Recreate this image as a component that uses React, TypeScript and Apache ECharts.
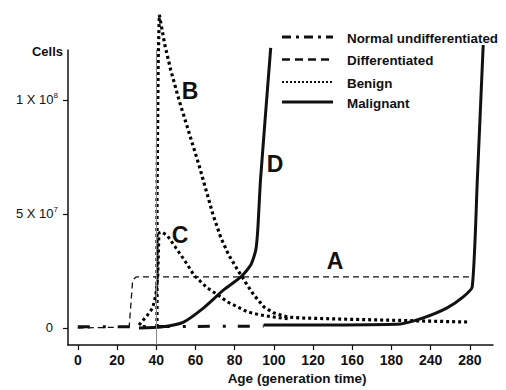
import React, { useEffect, useRef } from 'react';
import * as echarts from 'echarts';

// x axis is drawn at evenly spaced positions (index) with these labels
const xTickIndex = [0, 1, 2, 3, 4, 5, 6, 7, 8, 9, 10];
const xTickLabels = ['0', '20', '40', '60', '80', '100', '120', '160', '180', '240', '280'];
const yTickValues = [0, 50, 100];
const yTickLabels = ['{z|0}', '{b|5 X 10}{s|7}', '{b|1 X 10}{s|8}'];

const normalUndiff: number[][] = [[0, 0.5], [4.74, 0.8]];
const differentiated: number[][] = [[0, 0], [1.31, 0.4], [1.4, 21], [1.49, 22.4], [10.06, 22.4]];
const benignB: number[][] = [
  [2.02, 0.4], [2.02, 56.1], [2.05, 117.5], [2.08, 137.3], [2.15, 130.7], [2.22, 124.1],
  [2.37, 113.2], [2.58, 100], [2.84, 85.5], [3.09, 71.5], [3.27, 60.5], [3.45, 49.6],
  [3.65, 39.5], [3.85, 32], [4.08, 25.4], [4.29, 19.7], [4.49, 14.5], [4.75, 9.2],
  [5.0, 6.6], [5.35, 4.8], [5.69, 4.4], [6.71, 3.9], [8.24, 3.3], [9.97, 2.6]
];
const benignC: number[][] = [
  [1.56, 1.3], [1.78, 5.7], [1.91, 8.8], [1.99, 14.5], [2.04, 22.4], [2.07, 41.7],
  [2.15, 42.1], [2.29, 40.4], [2.45, 36.4], [2.63, 32], [2.8, 27.6], [2.96, 23.2],
  [3.14, 20.2], [3.31, 17.5], [3.57, 14.5], [3.82, 11.4], [4.08, 9.2], [4.33, 7],
  [4.67, 5.7], [5.0, 4.8], [5.43, 3.9]
];
const malignantD: number[][] = [
  [1.56, 0], [2.12, 0.4], [2.7, 2.6], [3.21, 8.8], [3.72, 16.7], [4.16, 22.4],
  [4.41, 27.6], [4.54, 34.2], [4.59, 43], [4.66, 64.9], [4.92, 122.8]
];
const malignantLate: number[][] = [
  [4.74, 1.3], [8.23, 1.8], [8.81, 4.4], [9.42, 8.8], [9.83, 13.6], [10.06, 18],
  [10.19, 64.9], [10.34, 124.1]
];
const markerAge = 2; // the "40" generation line

const legendItems = ['Normal undifferentiated', 'Differentiated', 'Benign', 'Malignant'];
const curveLabels = ['A', 'B', 'C', 'D'];

const FONT = '"Liberation Sans", Arial, Helvetica, sans-serif';
const INK = '#111';

export default function App() {
  const ref = useRef<HTMLDivElement>(null);
  useEffect(() => {
    if (!ref.current) return;
    const chart = echarts.init(ref.current, null, { renderer: 'svg' });

    const legendY = [37, 59.5, 82, 102];
    const legendDash: (number[] | null)[] = [[9, 5, 3, 5], [8, 5], [2, 2], null];
    const legendWidth = [3, 2.5, 2, 3];
    const legendGraphics: any[] = [];
    legendItems.forEach((name, i) => {
      legendGraphics.push({
        type: 'line',
        shape: { x1: 282, y1: legendY[i], x2: 333, y2: legendY[i] },
        style: { stroke: INK, lineWidth: legendWidth[i], lineDash: legendDash[i] || undefined },
      });
      legendGraphics.push({
        type: 'text',
        x: 347,
        y: legendY[i] + 1,
        style: { text: name, font: `bold 13.4px ${FONT}`, fill: INK, textVerticalAlign: 'middle', textAlign: 'left' },
      });
    });
    const letterPos = [[335, 261], [190, 91], [180, 235], [275, 164]];
    const letterGraphics = curveLabels.map((t, i) => ({
      type: 'text',
      x: letterPos[i][0],
      y: letterPos[i][1],
      style: { text: t, font: `bold 23px ${FONT}`, fill: INK, textAlign: 'center', textVerticalAlign: 'middle' },
    }));

    chart.setOption({
      animation: false,
      backgroundColor: '#fff',
      grid: { left: 68, right: 13, top: 50, bottom: 45 },
      xAxis: {
        type: 'value',
        min: -0.25,
        max: 10.59,
        axisLine: { show: true, onZero: false, lineStyle: { color: INK, width: 1.5 } },
        axisTick: { show: true, length: 5, customValues: xTickIndex, lineStyle: { color: INK, width: 1.2 } },
        axisLabel: {
          customValues: xTickIndex,
          formatter: (v: number) => xTickLabels[Math.round(v)],
          fontSize: 14,
          fontWeight: 'bold',
          fontFamily: FONT,
          color: INK,
          margin: 8,
        },
        splitLine: { show: false },
      },
      yAxis: {
        type: 'value',
        min: -7.46,
        max: 121.9,
        axisLine: { show: true, onZero: false, lineStyle: { color: INK, width: 1.5 } },
        axisTick: { show: true, length: 5, customValues: yTickValues, lineStyle: { color: INK, width: 1.2 } },
        axisLabel: {
          customValues: yTickValues,
          formatter: (v: number) => yTickLabels[yTickValues.indexOf(v)],
          margin: 10,
          rich: {
            z: { fontSize: 13, fontFamily: FONT, color: INK, padding: [0, 5, 0, 0] },
            b: { fontSize: 13, fontFamily: FONT, color: INK },
            s: { fontSize: 8, fontFamily: FONT, color: INK, padding: [0, 0, 8, 0] },
          },
        },
        splitLine: { show: false },
      },
      graphic: [
        {
          type: 'text', x: 47.5, y: 51,
          style: { text: 'Cells', font: `bold 13px ${FONT}`, fill: INK, textAlign: 'center', textVerticalAlign: 'middle' },
        },
        {
          type: 'text', x: 297, y: 378,
          style: { text: 'Age (generation time)', font: `bold 13.5px ${FONT}`, fill: INK, textAlign: 'center', textVerticalAlign: 'middle' },
        },
        ...legendGraphics,
        ...letterGraphics,
      ],
      series: [
        {
          name: 'Differentiated', type: 'line', data: differentiated, showSymbol: false, clip: false,
          lineStyle: { color: INK, width: 1.3, type: [6, 4] },
          markLine: {
            silent: true, symbol: 'none', label: { show: false },
            lineStyle: { color: '#888', width: 1, type: 'solid' },
            data: [{ xAxis: markerAge }],
          },
        },
        {
          name: 'Normal undifferentiated', type: 'line', data: normalUndiff, showSymbol: false, clip: false,
          lineStyle: { color: INK, width: 3, type: [12, 13, 3, 12] },
        },
        {
          name: 'Benign', type: 'line', data: benignB, showSymbol: false, clip: false,
          lineStyle: { color: '#000', width: 3.2, type: [3, 3] },
        },
        {
          name: 'Benign', type: 'line', data: benignC, showSymbol: false, clip: false,
          lineStyle: { color: '#000', width: 3, type: [3, 3] },
        },
        {
          name: 'Malignant', type: 'line', data: malignantD, showSymbol: false, clip: false, smooth: 0.2,
          lineStyle: { color: INK, width: 3 },
        },
        {
          name: 'Malignant', type: 'line', data: malignantLate, showSymbol: false, clip: false, smooth: 0.2,
          lineStyle: { color: INK, width: 3 },
        },
      ],
    });
    return () => chart.dispose();
  }, []);
  return <div ref={ref} style={{ position: 'fixed', left: 0, top: 0, width: 506, height: 390 }} />;
}
